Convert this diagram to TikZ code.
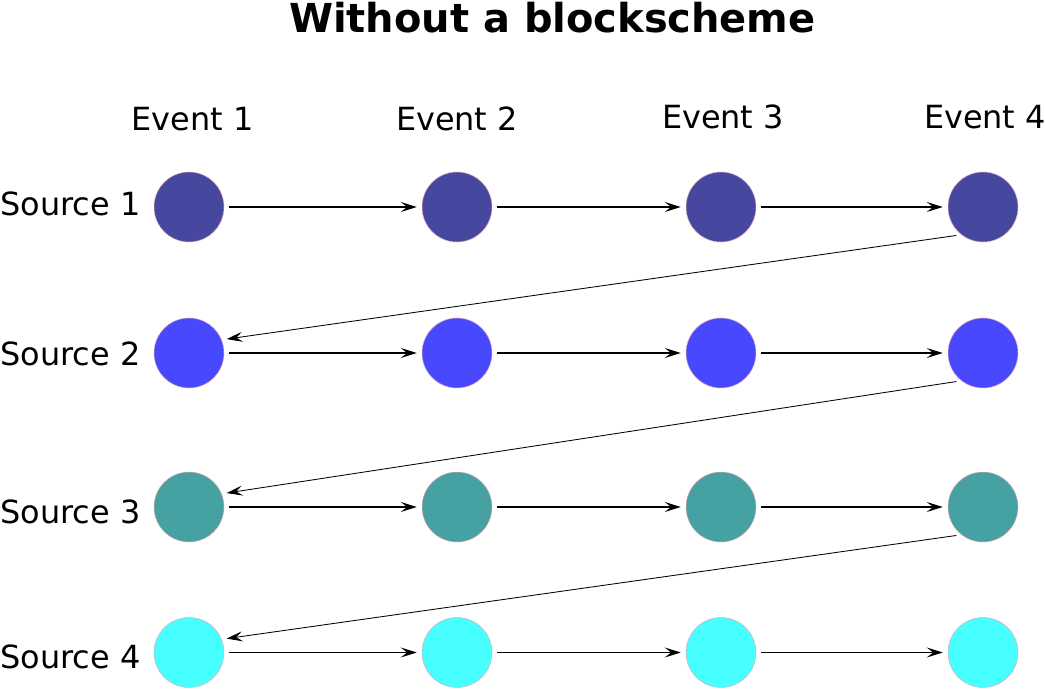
\documentclass[tikz,border=0pt]{standalone}
\usepackage{fontspec}
\setmainfont{DejaVu Sans}
\usepackage{xcolor}
\usepackage{tikz}
\usetikzlibrary{arrows.meta,positioning}
\definecolor{bsnavy}{RGB}{70,72,160}
\definecolor{bsblue}{RGB}{72,72,255}
\definecolor{bsteal}{RGB}{70,162,162}
\definecolor{bscyan}{RGB}{72,255,255}
\definecolor{bsrim}{RGB}{230,170,185}
\tikzset{
  bsdot/.style={circle, draw=bsrim, line width=0.35pt, minimum size=1.75cm,
    inner sep=0pt},
  bslabel/.style={inner sep=0pt, font=\fontsize{22.7}{27}\selectfont},
  bsarrow/.style={-{Stealth[length=4mm,width=2.5mm,inset=1.6mm]}, line width=0.9pt,
    shorten <=0.125cm, shorten >=0.125cm},
  bsback/.style={-{Stealth[length=4mm,width=2.5mm,inset=1.6mm]}, line width=0.6pt,
    shorten <=0.125cm, shorten >=0.125cm}
}
\begin{document}
\begin{tikzpicture}
  \useasboundingbox (0cm,0cm) rectangle (26.125cm,17.225cm);
  \node[inner sep=0pt, font=\bfseries\fontsize{28.4}{32}\selectfont] (tT) at (13.81cm,16.775cm) {Without a blockscheme};
  \node[bslabel] (e1) at (4.81cm,14.25cm) {Event 1};
  \node[bslabel] (e2) at (11.425cm,14.25cm) {Event 2};
  \node[bslabel] (e3) at (18.075cm,14.30cm) {Event 3};
  \node[bslabel] (e4) at (24.625cm,14.30cm) {Event 4};
  \node[bslabel, anchor=west] (s1) at (0.00cm,12.125cm) {Source 1};
  \node[bslabel, anchor=west] (s2) at (0.00cm,8.375cm) {Source 2};
  \node[bslabel, anchor=west] (s3) at (0.00cm,4.425cm) {Source 3};
  \node[bslabel, anchor=west] (s4) at (0.00cm,0.80cm) {Source 4};
  % source 1
  \node[bsdot, fill=bsnavy] (c11) at (4.725cm,12.05cm) {};
  \node[bsdot, fill=bsnavy] (c12) at (11.425cm,12.05cm) {};
  \node[bsdot, fill=bsnavy] (c13) at (18.025cm,12.05cm) {};
  \node[bsdot, fill=bsnavy] (c14) at (24.575cm,12.05cm) {};
  % source 2
  \node[bsdot, fill=bsblue] (c21) at (4.725cm,8.40cm) {};
  \node[bsdot, fill=bsblue] (c22) at (11.425cm,8.40cm) {};
  \node[bsdot, fill=bsblue] (c23) at (18.025cm,8.40cm) {};
  \node[bsdot, fill=bsblue] (c24) at (24.575cm,8.40cm) {};
  % source 3
  \node[bsdot, fill=bsteal] (c31) at (4.725cm,4.55cm) {};
  \node[bsdot, fill=bsteal] (c32) at (11.425cm,4.55cm) {};
  \node[bsdot, fill=bsteal] (c33) at (18.025cm,4.55cm) {};
  \node[bsdot, fill=bsteal] (c34) at (24.575cm,4.55cm) {};
  % source 4
  \node[bsdot, fill=bscyan] (c41) at (4.725cm,0.9125cm) {};
  \node[bsdot, fill=bscyan] (c42) at (11.425cm,0.9125cm) {};
  \node[bsdot, fill=bscyan] (c43) at (18.025cm,0.9125cm) {};
  \node[bsdot, fill=bscyan] (c44) at (24.575cm,0.9125cm) {};
  \draw[bsarrow] (c11) -- (c12);
  \draw[bsarrow] (c12) -- (c13);
  \draw[bsarrow] (c13) -- (c14);
  \draw[bsback] (c14.232) -- (c21.22);
  \draw[bsarrow] (c21) -- (c22);
  \draw[bsarrow] (c22) -- (c23);
  \draw[bsarrow] (c23) -- (c24);
  \draw[bsback] (c24.232) -- (c31.22);
  \draw[bsarrow] (c31) -- (c32);
  \draw[bsarrow] (c32) -- (c33);
  \draw[bsarrow] (c33) -- (c34);
  \draw[bsback] (c34.232) -- (c41.22);
  \draw[bsarrow] (c41) -- (c42);
  \draw[bsarrow] (c42) -- (c43);
  \draw[bsarrow] (c43) -- (c44);
\end{tikzpicture}
\end{document}
